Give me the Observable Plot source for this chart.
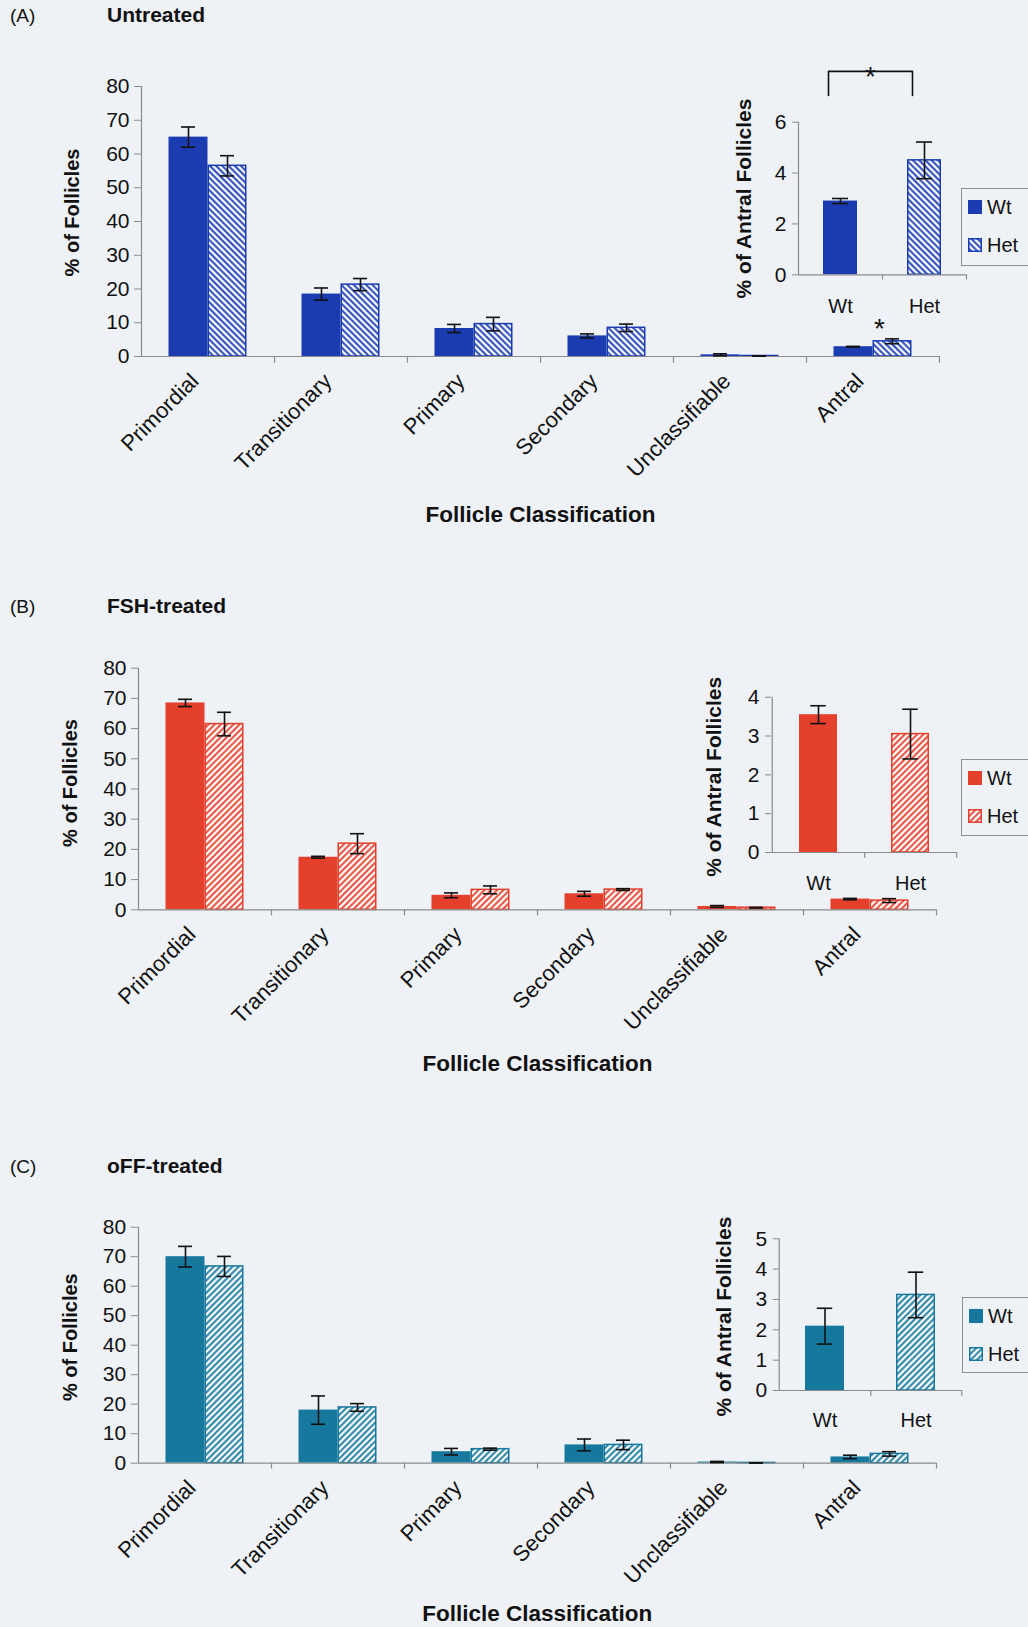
<!DOCTYPE html>
<html><head><meta charset="utf-8">
<script src="https://cdn.jsdelivr.net/npm/d3@7"></script>
<script src="https://cdn.jsdelivr.net/npm/@observablehq/plot@0.6"></script>
<style>
body{margin:0;background:#eef1f6;}
#root{position:relative;width:1028px;height:1627px;background:#eef1f6;font-family:"Liberation Sans",Arial,sans-serif;overflow:hidden;color:#111;}
.abs{position:absolute;line-height:1;white-space:nowrap;}
</style></head><body><div id="root"></div>
<script>
// ---------- DATA ----------
const categories = ["Primordial","Transitionary","Primary","Secondary","Unclassifiable","Antral"];
const genotypes = ["Wt","Het"];

// (A) Untreated
const untreatedWt     = [65.0, 18.5, 8.3, 6.1, 0.5, 2.9];
const untreatedWtSem  = [3.0, 1.8, 1.2, 0.6, 0.3, 0.1];
const untreatedHet    = [56.5, 21.3, 9.6, 8.5, 0.15, 4.5];
const untreatedHetSem = [3.0, 1.8, 2.0, 1.1, 0.05, 0.72];
const untreatedAntral    = [2.9, 4.5];
const untreatedAntralSem = [0.1, 0.72];

// (B) FSH-treated
const fshWt     = [68.5, 17.4, 4.8, 5.3, 1.1, 3.55];
const fshWtSem  = [1.2, 0.3, 0.8, 0.8, 0.3, 0.23];
const fshHet    = [61.5, 21.9, 6.6, 6.7, 0.7, 3.05];
const fshHetSem = [3.9, 3.3, 1.3, 0.3, 0.1, 0.64];
const fshAntral    = [3.55, 3.05];
const fshAntralSem = [0.23, 0.64];

// (C) oFF-treated
const offWt     = [70.0, 18.0, 3.9, 6.2, 0.4, 2.12];
const offWtSem  = [3.5, 4.8, 1.1, 2.0, 0.2, 0.59];
const offHet    = [66.7, 18.9, 4.75, 6.2, 0.1, 3.15];
const offHetSem = [3.4, 1.3, 0.35, 1.6, 0.05, 0.75];
const offAntral    = [2.12, 3.15];
const offAntralSem = [0.59, 0.75];

const mainTicks = [0,10,20,30,40,50,60,70,80];

// ---------- HELPERS ----------
const root = document.getElementById("root");
const NS = "http://www.w3.org/2000/svg";
const FONT = '"Liberation Sans", Arial, sans-serif';
const AXIS = "#8a8a8a";

function hatchDefs(id, color, angle) {
  return () => {
    const defs = document.createElementNS(NS, "defs");
    const p = document.createElementNS(NS, "pattern");
    p.setAttribute("id", id);
    p.setAttribute("patternUnits", "userSpaceOnUse");
    p.setAttribute("width", 4.4); p.setAttribute("height", 4.4);
    p.setAttribute("patternTransform", `rotate(${angle})`);
    const r = document.createElementNS(NS, "rect");
    r.setAttribute("width", 4.4); r.setAttribute("height", 4.4); r.setAttribute("fill", "#fbfcfe");
    const l = document.createElementNS(NS, "line");
    l.setAttribute("x1", 2.2); l.setAttribute("x2", 2.2); l.setAttribute("y1", -1); l.setAttribute("y2", 5.4);
    l.setAttribute("stroke", color); l.setAttribute("stroke-width", 1.9);
    p.appendChild(r); p.appendChild(l); defs.appendChild(p);
    return defs;
  };
}

function place(el, left, top) {
  const d = document.createElement("div");
  d.style.position = "absolute"; d.style.left = left + "px"; d.style.top = top + "px";
  d.appendChild(el); root.appendChild(d);
}

function text(str, left, baseline, size, bold) {
  const d = document.createElement("div");
  d.className = "abs";
  d.textContent = str;
  d.style.left = left + "px";
  d.style.top = (baseline - size * 0.9) + "px";
  d.style.fontSize = size + "px";
  if (bold) d.style.fontWeight = "bold";
  root.appendChild(d);
}

function mainPanel(c) {
  const rows = categories.map((cat, i) => ({cat, wt: c.wt[i], wtE: c.wtE[i], het: c.het[i], hetE: c.hetE[i]}));
  const band = c.band, half = band / 2, outer = 27.5, off = (half - outer) / 2, cap = 14;
  const capInWt = half - off - cap / 2, capInHet = half + off - cap / 2;
  const pid = "hatch-main-" + c.id;
  const plot = Plot.plot({
    width: 1028, height: c.height,
    marginLeft: c.x0, marginRight: 1028 - (c.x0 + 6 * band), marginTop: c.mt, marginBottom: c.mb,
    x: {domain: categories, padding: 0},
    y: {domain: [0, 80]},
    style: {background: "transparent", overflow: "visible", fontFamily: FONT, color: "#111"},
    marks: [
      hatchDefs(pid, c.color, c.angle),
      Plot.barY(rows, {x: "cat", y: "wt", fill: c.color, insetLeft: outer, insetRight: half}),
      Plot.barY(rows, {x: "cat", y: "het", fill: `url(#${pid})`, stroke: c.color, strokeWidth: 1.5, insetLeft: half + 0.75, insetRight: outer + 0.75}),
      Plot.ruleY([0], {stroke: AXIS, strokeWidth: 1.2}),
      Plot.ruleX([categories[0]], {x: d => d, y1: 0, y2: 80, dx: -half, stroke: AXIS, strokeWidth: 1.2}),
      Plot.ruleX(categories, {x: d => d, y1: 0, y2: -c.tickData, dx: half, stroke: AXIS, strokeWidth: 1.2}),
      // error bars
      Plot.ruleX(rows, {x: "cat", y1: d => d.wt - d.wtE, y2: d => d.wt + d.wtE, dx: -off, stroke: "#111", strokeWidth: 1.6}),
      Plot.tickY(rows, {x: "cat", y: d => d.wt + d.wtE, insetLeft: capInWt, insetRight: band - capInWt - cap, stroke: "#111", strokeWidth: 1.6}),
      Plot.tickY(rows, {x: "cat", y: d => d.wt - d.wtE, insetLeft: capInWt, insetRight: band - capInWt - cap, stroke: "#111", strokeWidth: 1.6}),
      Plot.ruleX(rows, {x: "cat", y1: d => d.het - d.hetE, y2: d => d.het + d.hetE, dx: off, stroke: "#111", strokeWidth: 1.6}),
      Plot.tickY(rows, {x: "cat", y: d => d.het + d.hetE, insetLeft: capInHet, insetRight: band - capInHet - cap, stroke: "#111", strokeWidth: 1.6}),
      Plot.tickY(rows, {x: "cat", y: d => d.het - d.hetE, insetLeft: capInHet, insetRight: band - capInHet - cap, stroke: "#111", strokeWidth: 1.6}),
      Plot.axisY({ticks: mainTicks, tickSize: 7, tickPadding: 5, fontSize: 21, label: null, stroke: AXIS}),
      Plot.axisX({tickSize: 0, tickPadding: 21, tickRotate: -45, fontSize: 22, label: null, dx: -13}),
      Plot.text(["% of Follicles"], {frameAnchor: "left", textAnchor: "middle", rotate: -90, dx: c.yTitleDx, dy: c.yTitleDy, fontSize: 20, fontWeight: "bold"}),
      Plot.text(["Follicle Classification"], {frameAnchor: "bottom", dy: c.xTitleDy, lineAnchor: "bottom", fontSize: 22.5, fontWeight: "bold"}),
      ...(c.extra ? c.extra(off) : [])
    ]
  });
  place(plot, 0, c.top);
}

function insetPanel(c) {
  const rows = genotypes.map((g, i) => ({g, v: c.v[i], e: c.e[i]}));
  const pid = "hatch-inset-" + c.id;
  const band = (c.width - c.ml - c.mr) / 2, cap = 16, capIn = (band - cap) / 2;
  const plot = Plot.plot({
    width: c.width, height: c.height,
    marginLeft: c.ml, marginRight: c.mr, marginTop: c.mt, marginBottom: c.mb,
    x: {domain: genotypes, padding: 0},
    y: {domain: [0, c.ymax]},
    style: {background: "transparent", overflow: "visible", fontFamily: FONT, color: "#111"},
    marks: [
      hatchDefs(pid, c.color, c.angle),
      Plot.barY(rows.filter(d => d.g === "Wt"), {x: "g", y: "v", fill: c.color, insetLeft: c.barInset, insetRight: c.barInset}),
      Plot.barY(rows.filter(d => d.g === "Het"), {x: "g", y: "v", fill: `url(#${pid})`, stroke: c.color, strokeWidth: 1.5, insetLeft: c.barInset + 0.75, insetRight: c.barInset + 0.75}),
      Plot.ruleY([0], {stroke: AXIS, strokeWidth: 1.2}),
      Plot.ruleX([genotypes[0]], {x: d => d, y1: 0, y2: c.ymax, dx: -band / 2, stroke: AXIS, strokeWidth: 1.2}),
      Plot.ruleX(genotypes, {x: d => d, y1: 0, y2: -c.tickData, dx: band / 2, stroke: AXIS, strokeWidth: 1.2}),
      Plot.ruleX(rows, {x: "g", y1: d => d.v - d.e, y2: d => d.v + d.e, stroke: "#111", strokeWidth: 1.6}),
      Plot.tickY(rows, {x: "g", y: d => d.v + d.e, insetLeft: capIn, insetRight: capIn, stroke: "#111", strokeWidth: 1.6}),
      Plot.tickY(rows, {x: "g", y: d => d.v - d.e, insetLeft: capIn, insetRight: capIn, stroke: "#111", strokeWidth: 1.6}),
      Plot.axisY({ticks: c.ticks, tickFormat: "d", tickSize: 6, tickPadding: 6, fontSize: 21, label: null, stroke: AXIS}),
      Plot.axisX({tickSize: 0, tickPadding: c.xPad, fontSize: 20, label: null}),
      Plot.text(["% of Antral Follicles"], {frameAnchor: "left", textAnchor: "middle", rotate: -90, dx: c.yTitleDx, dy: c.yTitleDy, fontSize: 21, fontWeight: "bold"}),
      ...(c.extra ? c.extra() : [])
    ]
  });
  place(plot, c.left, c.top);
}

function legendBox(c) {
  const svg = d3.create("svg").attr("width", 72).attr("height", c.h).style("display", "block").style("overflow", "visible");
  const p = svg.append("defs").append("pattern").attr("id", "hatch-leg-" + c.id)
    .attr("patternUnits", "userSpaceOnUse").attr("width", 4.4).attr("height", 4.4)
    .attr("patternTransform", `rotate(${c.angle})`);
  p.append("rect").attr("width", 4.4).attr("height", 4.4).attr("fill", "#fbfcfe");
  p.append("line").attr("x1", 2.2).attr("x2", 2.2).attr("y1", -1).attr("y2", 5.4).attr("stroke", c.color).attr("stroke-width", 1.9);
  svg.append("rect").attr("x", 0.5).attr("y", 0.5).attr("width", 75).attr("height", c.h - 1).attr("fill", "none").attr("stroke", "#8f8f8f");
  genotypes.forEach((g, i) => {
    const y = 12 + i * 38;
    if (g === "Wt") svg.append("rect").attr("x", 7).attr("y", y).attr("width", 14).attr("height", 14).attr("fill", c.color);
    else svg.append("rect").attr("x", 7.75).attr("y", y + 0.75).attr("width", 12.5).attr("height", 12.5).attr("fill", `url(#hatch-leg-${c.id})`).attr("stroke", c.color).attr("stroke-width", 1.5);
    svg.append("text").attr("x", 26).attr("y", y + 14).attr("font-size", 20).attr("font-family", FONT).attr("fill", "#111").text(g);
  });
  place(svg.node(), c.left, c.top);
}

// ---------- PANEL A ----------
const blue = "#1b3cb1";
text("(A)", 10, 23, 19, false);
text("Untreated", 107, 23, 21, true);
mainPanel({id: "A", wt: untreatedWt, wtE: untreatedWtSem, het: untreatedHet, hetE: untreatedHetSem,
  color: blue, angle: -45, x0: 141, band: 133, top: 40, height: 500, mt: 46, mb: 184, tickData: 2,
  yTitleDx: -69, yTitleDy: -9, xTitleDy: 165,
  extra: off => [Plot.text([{cat: "Antral", y: 5.6}], {x: "cat", y: "y", text: () => "*", dx: off - 13, lineAnchor: "bottom", fontSize: 28})]
});
insetPanel({id: "A", v: untreatedAntral, e: untreatedAntralSem, color: blue, angle: -45,
  left: 690, top: 40, width: 290, height: 290, ml: 108, mr: 14, mt: 81.7, mb: 55.7,
  ymax: 6, ticks: [0, 2, 4, 6], barInset: 25, tickData: 0.2, xPad: 24, yTitleDx: -54, yTitleDy: 0,
  extra: () => [
    Plot.line([{g: "Wt", y: 7.05}, {g: "Wt", y: 8}, {g: "Het", y: 8}, {g: "Het", y: 7.05}], {x: "g", y: "y", dx: -12, stroke: "#111", strokeWidth: 1.6}),
    Plot.text([{g: "Wt", y: 7.44}], {x: "g", y: "y", text: () => "*", dx: 30, lineAnchor: "bottom", fontSize: 28})
  ]
});
legendBox({id: "A", color: blue, angle: -45, left: 961, top: 188, h: 78});

// ---------- PANEL B ----------
const red = "#e4402c";
text("(B)", 10, 614, 19, false);
text("FSH-treated", 107, 614, 21, true);
mainPanel({id: "B", wt: fshWt, wtE: fshWtSem, het: fshHet, hetE: fshHetSem,
  color: red, angle: 45, x0: 138, band: 133, top: 600, height: 500, mt: 67.7, mb: 190.7, tickData: 2,
  yTitleDx: -68, yTitleDy: -6, xTitleDy: 161
});
insetPanel({id: "B", v: fshAntral, e: fshAntralSem, color: red, angle: 45,
  left: 680, top: 620, width: 290, height: 290, ml: 91, mr: 14, mt: 76.7, mb: 58,
  ymax: 4, ticks: [0, 1, 2, 3, 4], barInset: 27, tickData: 0.15, xPad: 23, yTitleDx: -57, yTitleDy: 2
});
legendBox({id: "B", color: red, angle: 45, left: 961, top: 759, h: 77});

// ---------- PANEL C ----------
const teal = "#17789d";
text("(C)", 10, 1174, 19, false);
text("oFF-treated", 107, 1174, 21, true);
mainPanel({id: "C", wt: offWt, wtE: offWtSem, het: offHet, hetE: offHetSem,
  color: teal, angle: 45, x0: 137.7, band: 133, top: 1160, height: 467, mt: 66.7, mb: 164.3, tickData: 2,
  yTitleDx: -68, yTitleDy: -8, xTitleDy: 158
});
insetPanel({id: "C", v: offAntral, e: offAntralSem, color: teal, angle: 45,
  left: 690, top: 1180, width: 290, height: 290, ml: 88.8, mr: 18, mt: 58.3, mb: 80,
  ymax: 5, ticks: [0, 1, 2, 3, 4, 5], barInset: 26, tickData: 0.2, xPad: 22, yTitleDx: -55, yTitleDy: 2
});
legendBox({id: "C", color: teal, angle: 45, left: 962, top: 1297, h: 76});
</script></body></html>
